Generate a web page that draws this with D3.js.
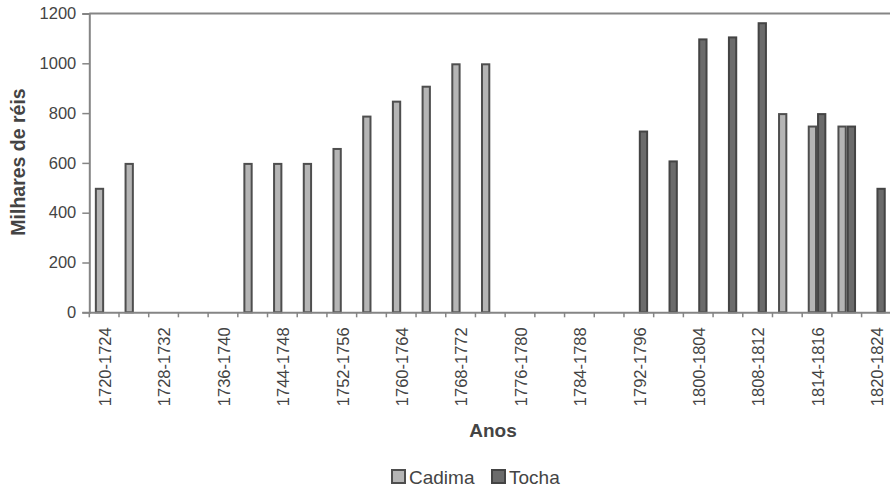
<!DOCTYPE html>
<html>
<head>
<meta charset="utf-8">
<script src="https://cdn.jsdelivr.net/npm/d3@7/dist/d3.min.js"></script>
<style>
  html, body { margin: 0; padding: 0; background: #fff; overflow: hidden; }
  svg { display: block; font-family: "Liberation Sans", Arial, Helvetica, sans-serif; }
</style>
</head>
<body>
<svg id="chart" width="890" height="492"></svg>
<script>
// Four-year periods (labels are shown on every other period)
const categories = [
  "1720-1724", "1724-1728", "1728-1732", "1732-1736", "1736-1740", "1740-1744",
  "1744-1748", "1748-1752", "1752-1756", "1756-1760", "1760-1764", "1764-1768",
  "1768-1772", "1772-1776", "1776-1780", "1780-1784", "1784-1788", "1788-1792",
  "1792-1796", "1796-1800", "1800-1804", "1804-1808", "1808-1812", "1812-1814",
  "1814-1816", "1816-1820", "1820-1824"
];
const seriesNames = ["Cadima", "Tocha"];
// Values in milhares de réis; null = no value for the period
const cadima = [
  500, 600, null, null, null, 600, 600, 600, 660, 790, 850, 910, 1000, 1000,
  null, null, null, null, null, null, null, null, null, 800, 750, 750, null
];
const tocha = [
  null, null, null, null, null, null, null, null, null, null, null, null, null, null,
  null, null, null, null, 730, 610, 1100, 1108, 1165, null, 800, 750, 500
];
const yTicks = [0, 200, 400, 600, 800, 1000, 1200];
const fills = { Cadima: "#b5b5b5", Tocha: "#6b6b6b" };
const strokes = { Cadima: "#4e4e4e", Tocha: "#444444" };

const svg = d3.select("#chart");
const plotLeft = 89.3, plotRight = 891.3, plotTop = 13.5, plotBottom = 312.3;
const textColor = "#444444";
const axisColor = "#858585";

const x0 = d3.scaleBand().domain(categories).range([plotLeft, plotRight])
  .paddingInner(0.374).paddingOuter(0.187);
const x1 = d3.scaleBand().domain(seriesNames).range([0, x0.bandwidth()]);
const y = d3.scaleLinear().domain([0, 1200]).range([plotBottom, plotTop]);

// Frame: top border
svg.append("line")
  .attr("x1", plotLeft).attr("x2", plotRight).attr("y1", plotTop).attr("y2", plotTop)
  .attr("stroke", axisColor).attr("stroke-width", 2);

// Bars
const rows = categories.map((c, i) => ({ cat: c, Cadima: cadima[i], Tocha: tocha[i] }));
const groups = svg.append("g").selectAll("g").data(rows).join("g")
  .attr("transform", d => `translate(${x0(d.cat)},0)`);
groups.selectAll("rect")
  .data(d => seriesNames.filter(s => d[s] != null).map(s => ({ key: s, value: d[s] })))
  .join("rect")
  .attr("x", d => x1(d.key) + 1)
  .attr("width", x1.bandwidth() - 2)
  .attr("y", d => y(d.value) + 1)
  .attr("height", d => Math.max(0, plotBottom - y(d.value) - 1))
  .attr("fill", d => fills[d.key])
  .attr("stroke", d => strokes[d.key])
  .attr("stroke-width", 2);

// Y axis
const yAxis = svg.append("g")
  .attr("transform", `translate(${plotLeft},0)`)
  .call(d3.axisLeft(y).tickValues(yTicks).tickSize(7).tickPadding(6).tickFormat(d3.format("d")));
yAxis.select(".domain").attr("stroke", axisColor).attr("stroke-width", 2);
yAxis.selectAll(".tick line").attr("stroke", axisColor).attr("stroke-width", 1.5);
yAxis.selectAll(".tick text").attr("fill", textColor).style("font-size", "16.5px");

// X axis: category labels on every other period, ticks at period boundaries
const step = x0.step();
const offset = step * x0.paddingOuter();
const xAxis = svg.append("g")
  .attr("transform", `translate(0,${plotBottom})`)
  .call(d3.axisBottom(x0)
    .tickValues(categories.filter((c, i) => i % 2 === 0))
    .tickSize(0));
xAxis.select(".domain").attr("stroke", axisColor).attr("stroke-width", 2);
xAxis.selectAll(".tick text")
  .attr("fill", textColor)
  .style("font-size", "16.5px")
  .attr("text-anchor", "end")
  .attr("transform", "rotate(-90)")
  .attr("x", -15)
  .attr("y", 1)
  .attr("dy", "0.35em");

svg.append("g").selectAll("line")
  .data(categories)
  .join("line")
  .attr("x1", d => x0(d) - offset).attr("x2", d => x0(d) - offset)
  .attr("y1", plotBottom).attr("y2", plotBottom + 5)
  .attr("stroke", axisColor).attr("stroke-width", 1.5);

// Axis titles
svg.append("text")
  .attr("transform", "translate(25,162) rotate(-90)")
  .attr("text-anchor", "middle")
  .attr("fill", textColor)
  .style("font-size", "19.5px").style("font-weight", "bold")
  .text("Milhares de réis");

svg.append("text")
  .attr("x", 493).attr("y", 437)
  .attr("text-anchor", "middle")
  .attr("fill", textColor)
  .style("font-size", "19px").style("font-weight", "bold")
  .text("Anos");

// Legend
const legendItems = [
  { key: "Cadima", x: 391 },
  { key: "Tocha", x: 491 }
];
const legend = svg.append("g").selectAll("g").data(legendItems).join("g")
  .attr("transform", d => `translate(${d.x},469)`);
legend.append("rect")
  .attr("x", 1).attr("y", 1).attr("width", 13).attr("height", 13)
  .attr("fill", d => fills[d.key]).attr("stroke", d => strokes[d.key]).attr("stroke-width", 2);
legend.append("text")
  .attr("x", 18).attr("y", 15)
  .attr("fill", textColor)
  .style("font-size", "19px")
  .text(d => d.key);
</script>
</body>
</html>
